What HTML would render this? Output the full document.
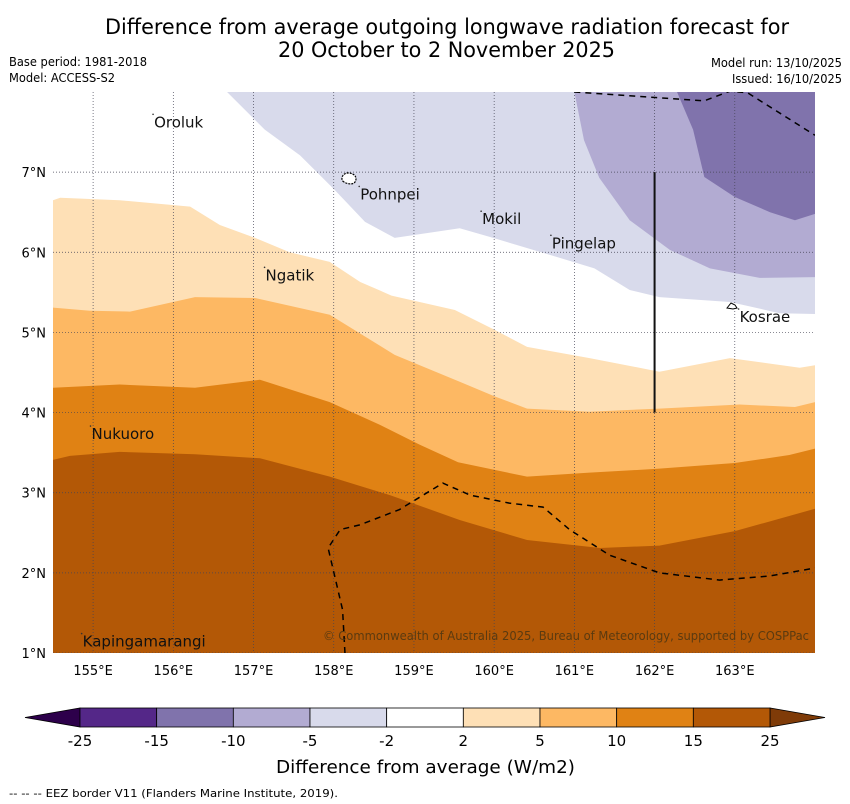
<!DOCTYPE html>
<html><head><meta charset="utf-8"><style>
body{margin:0;background:#fff;width:850px;height:804px;overflow:hidden;font-family:"DejaVu Sans","Liberation Sans",sans-serif}
svg{display:block}
.c{font-stretch:condensed;font-family:"DejaVu Sans Condensed","DejaVu Sans",sans-serif}
</style></head><body>
<svg id="s" width="850" height="804" xmlns="http://www.w3.org/2000/svg">
<defs><clipPath id="mapclip"><rect x="53" y="92" width="762" height="561"/></clipPath></defs>
<text class="c" x="105" y="34" font-size="21" textLength="684" lengthAdjust="spacingAndGlyphs">Difference from average outgoing longwave radiation forecast for</text>
<text class="c" x="278" y="57" font-size="21" textLength="337" lengthAdjust="spacingAndGlyphs">20 October to 2 November 2025</text>
<text class="c" x="9" y="66" font-size="12" textLength="138" lengthAdjust="spacingAndGlyphs">Base period: 1981-2018</text>
<text class="c" x="9" y="82" font-size="12" textLength="106" lengthAdjust="spacingAndGlyphs">Model: ACCESS-S2</text>
<text class="c" x="711" y="67" font-size="12" textLength="131" lengthAdjust="spacingAndGlyphs">Model run: 13/10/2025</text>
<text class="c" x="732" y="83" font-size="12" textLength="110" lengthAdjust="spacingAndGlyphs">Issued: 16/10/2025</text>
<g id="map" clip-path="url(#mapclip)"></g>
<g id="axes"></g>
<g id="cbar"></g>
<text x="276" y="773" font-size="18" textLength="299" lengthAdjust="spacingAndGlyphs">Difference from average (W/m2)</text>
<text class="c" x="9" y="797" font-size="11" textLength="329" lengthAdjust="spacingAndGlyphs">--  --  -- EEZ border V11 (Flanders Marine Institute, 2019).</text>
</svg>
<script>
const lonMin=154.5, lonMax=164, latMin=1, latMax=8;
const lonTicks=[155,156,157,158,159,160,161,162,163];
const latTicks=[1,2,3,4,5,6,7];
// contour boundaries (lon, lat)
const c2Lon=[154.5,154.59,155.33,156.21,156.58,157.02,157.45,157.95,158.33,158.72,159.51,160.01,160.41,161.19,162.06,162.94,163.81,164];
const c2Lat=[6.65,6.68,6.65,6.57,6.34,6.18,6.0,5.88,5.63,5.46,5.28,5.03,4.82,4.68,4.51,4.68,4.56,4.59];
const c5Lon=[154.5,154.96,155.46,156.27,157.02,157.95,158.76,159.51,160.01,160.41,161.19,162.06,163.06,163.75,164];
const c5Lat=[5.31,5.27,5.26,5.44,5.43,5.22,4.72,4.41,4.2,4.05,4.01,4.05,4.1,4.07,4.13];
const c10Lon=[154.5,155.33,156.27,157.08,157.95,158.57,159.07,159.55,160.41,161.19,162.06,163.0,163.68,164];
const c10Lat=[4.31,4.35,4.31,4.41,4.13,3.85,3.6,3.38,3.2,3.25,3.3,3.37,3.47,3.55];
const c15Lon=[154.5,154.71,155.33,156.27,157.08,157.95,158.7,159.57,160.41,161.32,162.06,163.0,164];
const c15Lat=[3.41,3.46,3.51,3.48,3.43,3.2,2.97,2.66,2.41,2.31,2.34,2.52,2.8];
const n2Lon=[156.67,157.14,157.58,158.01,158.39,158.76,159.57,159.95,160.69,161.25,161.69,162.06,162.94,163.56,164];
const n2Lat=[8.0,7.53,7.21,6.78,6.38,6.18,6.3,6.19,5.97,5.8,5.53,5.44,5.38,5.24,5.23];
const n5Lon=[161.0,161.12,161.31,161.69,162.19,162.69,163.31,164];
const n5Lat=[8,7.4,6.93,6.4,6.03,5.8,5.68,5.69];
const n10Lon=[162.28,162.48,162.62,163.0,163.44,163.75,164];
const n10Lat=[8,7.53,6.94,6.69,6.5,6.4,6.48];
const eez1Lon=[161.0,162.62,162.94,163.16,164];
const eez1Lat=[8.0,7.89,8.01,7.99,7.46];
const eez2Lon=[158.14,158.11,157.93,158.08,158.33,158.82,159.36,159.7,160.19,160.61,160.94,161.44,162.06,162.81,163.43,164];
const eez2Lat=[1.0,1.54,2.31,2.54,2.6,2.79,3.12,2.97,2.87,2.82,2.54,2.22,2.0,1.91,1.96,2.06];
const islandNames=["Oroluk","Pohnpei","Mokil","Pingelap","Ngatik","Kosrae","Nukuoro","Kapingamarangi"];
const islandLon=[155.76,158.33,159.85,160.72,157.15,163.06,154.98,154.87];
const islandLat=[7.56,6.66,6.35,6.05,5.65,5.13,3.67,1.08];
const cbLevels=["-25","-15","-10","-5","-2","2","5","10","15","25"];
const cbColors=["#542788","#8073ac","#b2abd2","#d8daeb","#ffffff","#fee0b6","#fdb863","#e08214","#b35806"];
const cbExt=["#2d004b","#7f3b08"];

const X0=53,X1=815,Y0=92,Y1=653;
const xS=l=>X0+(l-lonMin)/(lonMax-lonMin)*(X1-X0);
const yS=l=>Y1-(l-latMin)/(latMax-latMin)*(Y1-Y0);
const NS="http://www.w3.org/2000/svg";
function mk(t,a,p){const e=document.createElementNS(NS,t);for(const k in a)e.setAttribute(k,a[k]);p.appendChild(e);return e;}
const map=document.getElementById('map'),axes=document.getElementById('axes'),cb=document.getElementById('cbar');
function pts(lo,la){return lo.map((v,i)=>xS(v)+','+yS(la[i]));}
function below(lo,la,col,name){
  const p=pts(lo,la);p.push(xS(lo[lo.length-1])+','+Y1,xS(lo[0])+','+Y1);
  const e=mk('polygon',{points:p.join(' '),fill:col},map);
  
  
}
function above(lo,la,col,name){
  const p=pts(lo,la);p.push(xS(lonMax)+','+Y0);
  const e=mk('polygon',{points:p.join(' '),fill:col},map);
  
  
}
below(c2Lon,c2Lat,cbColors[5],'contour-2-5');
below(c5Lon,c5Lat,cbColors[6],'contour-5-10');
below(c10Lon,c10Lat,cbColors[7],'contour-10-15');
below(c15Lon,c15Lat,cbColors[8],'contour-15-25');
above(n2Lon,n2Lat,cbColors[3],'contour-neg2-neg5');
above(n5Lon,n5Lat,cbColors[2],'contour-neg5-neg10');
above(n10Lon,n10Lat,cbColors[1],'contour-neg10-neg15');
// grid
lonTicks.forEach(l=>{const e=mk('line',{x1:xS(l),x2:xS(l),y1:Y0,y2:Y1,stroke:'#445',"stroke-width":0.7,"stroke-dasharray":'1,2'},map);

});
latTicks.forEach(l=>{const e=mk('line',{x1:X0,x2:X1,y1:yS(l),y2:yS(l),stroke:'#445',"stroke-width":0.7,"stroke-dasharray":'1,2'},map);

});
// eez
[[eez1Lon,eez1Lat],[eez2Lon,eez2Lat]].forEach(([lo,la])=>{const e=mk('polyline',{points:pts(lo,la).join(' '),fill:'none',stroke:'#000',"stroke-width":1.5,"stroke-dasharray":'6,5'},map);

});
const vl=mk('line',{x1:xS(162),x2:xS(162),y1:yS(7),y2:yS(4),stroke:'#111',"stroke-width":2},map);


// island outlines
const pi=mk('path',{d:`M344,182 c-4,-2 -2,-9 4,-9 c6,0 10,4 7,9 c-2,3 -8,2 -11,0z`,fill:'#fff',stroke:'#000',"stroke-width":1.2,"stroke-dasharray":'2,1'},map);


const ko=mk('path',{d:`M727,308 l4,-5 l4,2 l2,3 l-4,1z`,fill:'#fff',stroke:'#000',"stroke-width":1},map);


islandNames.forEach((n,i)=>{
  const t=mk('text',{x:xS(islandLon[i]),y:yS(islandLat[i]),"font-size":15,fill:'#111'},map);t.textContent=n;
  
  
  const d=mk('circle',{cx:xS(islandLon[i])-1,cy:yS(islandLat[i])-13,r:0.8,fill:'#333'},map);
  
  
});
const cr=mk('text',{x:323,y:640,"font-size":12,fill:'#5a3a10',textLength:486,lengthAdjust:'spacingAndGlyphs'},map);
cr.textContent='© Commonwealth of Australia 2025, Bureau of Meteorology, supported by COSPPac';


// axis labels
lonTicks.forEach(l=>{const t=mk('text',{x:xS(l),y:675,"font-size":13,"text-anchor":'middle'},axes);t.textContent=l+'°E';

});
latTicks.forEach(l=>{const t=mk('text',{x:46,y:yS(l)+5,"font-size":13,"text-anchor":'end'},axes);t.textContent=l+'°N';

});
// colorbar
const cx0=80,cx1=770,cy0=708,cy1=727,w=(cx1-cx0)/cbColors.length;
const tl=mk('polygon',{points:`${cx0},${cy0} ${cx0},${cy1} 25,${(cy0+cy1)/2}`,fill:cbExt[0],stroke:'#000',"stroke-width":0.8},cb);


const tr=mk('polygon',{points:`${cx1},${cy0} ${cx1},${cy1} 825,${(cy0+cy1)/2}`,fill:cbExt[1],stroke:'#000',"stroke-width":0.8},cb);


cbColors.forEach((c,i)=>{const r=mk('rect',{x:cx0+i*w,y:cy0,width:w,height:cy1-cy0,fill:c,stroke:'#000',"stroke-width":0.8},cb);

});
cbLevels.forEach((l,i)=>{const t=mk('text',{x:cx0+i*w,y:746,"font-size":15,"text-anchor":'middle'},cb);t.textContent=l;

});
</script>
</body></html>
